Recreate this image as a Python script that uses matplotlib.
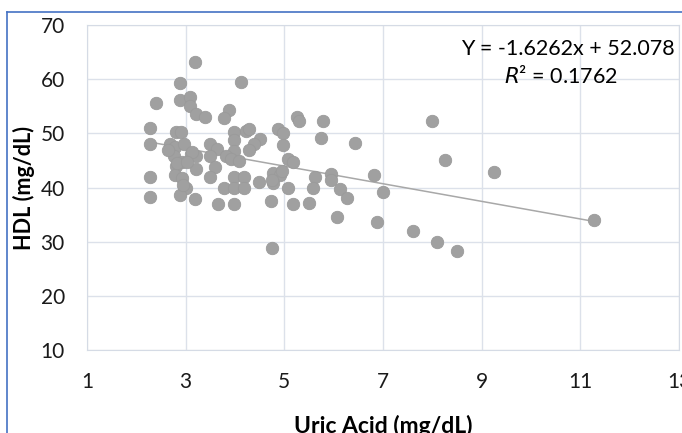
import matplotlib.pyplot as plt
from matplotlib.lines import Line2D

plt.rcParams['font.family'] = ['Lato', 'DejaVu Sans']

# uric acid (mg/dL) and HDL (mg/dL)
uric_acid = [3.19, 2.89, 4.12, 2.40, 2.88, 3.08, 3.09, 3.20, 3.39, 3.88,
             3.78, 2.28, 2.80, 2.91, 3.97, 4.22, 4.29, 3.97, 4.50, 4.38,
             4.28, 4.88, 4.98, 4.97, 5.25, 2.28, 2.68, 2.78, 2.97, 3.49,
             3.64, 3.49, 3.97, 2.77, 3.10, 3.20, 3.81, 3.91, 4.09, 2.80,
             2.92, 3.20, 3.59, 2.78, 2.93, 2.28, 3.49, 3.97, 4.19, 4.48,
             4.78, 4.91, 4.78, 5.08, 5.08, 5.18, 3.00, 2.89, 2.28, 3.77,
             3.97, 4.19, 3.19, 3.66, 3.97, 4.72, 5.17, 3.12, 2.82, 3.02,
             2.65, 2.95, 4.74, 4.95,
             5.30, 5.79, 8.00, 5.75, 6.43, 8.25, 9.24, 5.63, 5.94, 5.94,
             6.81, 5.59, 6.12, 6.27, 7.01, 5.50, 6.07, 6.88, 7.61, 8.09,
             8.51, 11.27, 4.76]
hdl = [63.1, 59.3, 59.5, 55.6, 56.1, 56.7, 55.1, 53.5, 53.0, 54.3,
       52.9, 51.0, 50.2, 50.3, 50.2, 50.5, 50.8, 48.8, 49.0, 48.0,
       47.0, 50.8, 50.0, 47.9, 53.0, 48.0, 48.1, 47.5, 48.0, 48.1,
       47.2, 45.9, 46.7, 45.8, 46.1, 45.8, 45.8, 45.2, 44.9, 43.9,
       44.7, 43.5, 43.7, 42.4, 41.7, 41.9, 41.9, 41.9, 41.9, 41.1,
       42.7, 42.4, 40.8, 39.9, 45.2, 44.7, 39.9, 38.6, 38.3, 39.9,
       39.9, 39.9, 37.8, 36.9, 36.9, 37.6, 36.9, 46.5, 44.5, 44.8,
       47.0, 40.4, 41.4, 43.1,
       52.2, 52.2, 52.2, 49.1, 48.3, 45.0, 42.9, 41.9, 42.5, 41.4,
       42.4, 40.0, 39.8, 38.0, 39.1, 37.1, 34.5, 33.7, 32.0, 29.9,
       28.2, 34.0, 28.9]

slope = -1.6262
intercept = 52.078
r_squared = 0.1762

x_ticks = [1, 3, 5, 7, 9, 11, 13]
y_ticks = [10, 20, 30, 40, 50, 60, 70]

fig = plt.figure(figsize=(6.82, 4.33), dpi=100)
ax = fig.add_axes([87/682, 1 - 350/433, 592/682, 325/433])

ax.set_xlim(1, 13)
ax.set_ylim(10, 70)
ax.set_xticks(x_ticks)
ax.set_yticks(y_ticks)
ax.grid(True, color='#DCE1EA', linewidth=1)
ax.set_axisbelow(True)
for s in ax.spines.values():
    s.set_color('#D5DBE5')
ax.tick_params(length=0, labelsize=15, colors='#1a1a1a')
ax.tick_params(axis='y', pad=16)
ax.tick_params(axis='x', pad=16)

ax.scatter(uric_acid, hdl, s=80, color='#A0A0A0', edgecolors='#9A9A9A',
           linewidths=0.6, zorder=3)

# trendline over the data range
x0, x1 = min(uric_acid), max(uric_acid)
ax.plot([x0, x1], [slope * x0 + intercept, slope * x1 + intercept],
        color='#A8A8A8', linewidth=1.1, zorder=2)

ax.text(0.993, 0.925, 'Y = %.4fx + %.3f' % (slope, intercept),
        transform=ax.transAxes, ha='right', va='center', fontsize=15.5)
ax.text(0.8, 0.842, '$R$² = %.4f' % r_squared,
        transform=ax.transAxes, ha='center', va='center', fontsize=15.5)

ax.set_xlabel('Uric Acid (mg/dL)', fontsize=16.5, fontweight='bold', labelpad=16)
ax.set_ylabel('HDL (mg/dL)', fontsize=15.5, fontweight='bold', labelpad=4)

# blue frame of the chart object
fig.add_artist(Line2D([7/682, 7/682], [0, 1 - 12/433], color='#4472C4',
                      linewidth=1.2, transform=fig.transFigure))
fig.add_artist(Line2D([7/682, 1], [1 - 12/433, 1 - 12/433], color='#4472C4',
                      linewidth=1.2, transform=fig.transFigure))

fig.savefig('out.png', dpi=100)
